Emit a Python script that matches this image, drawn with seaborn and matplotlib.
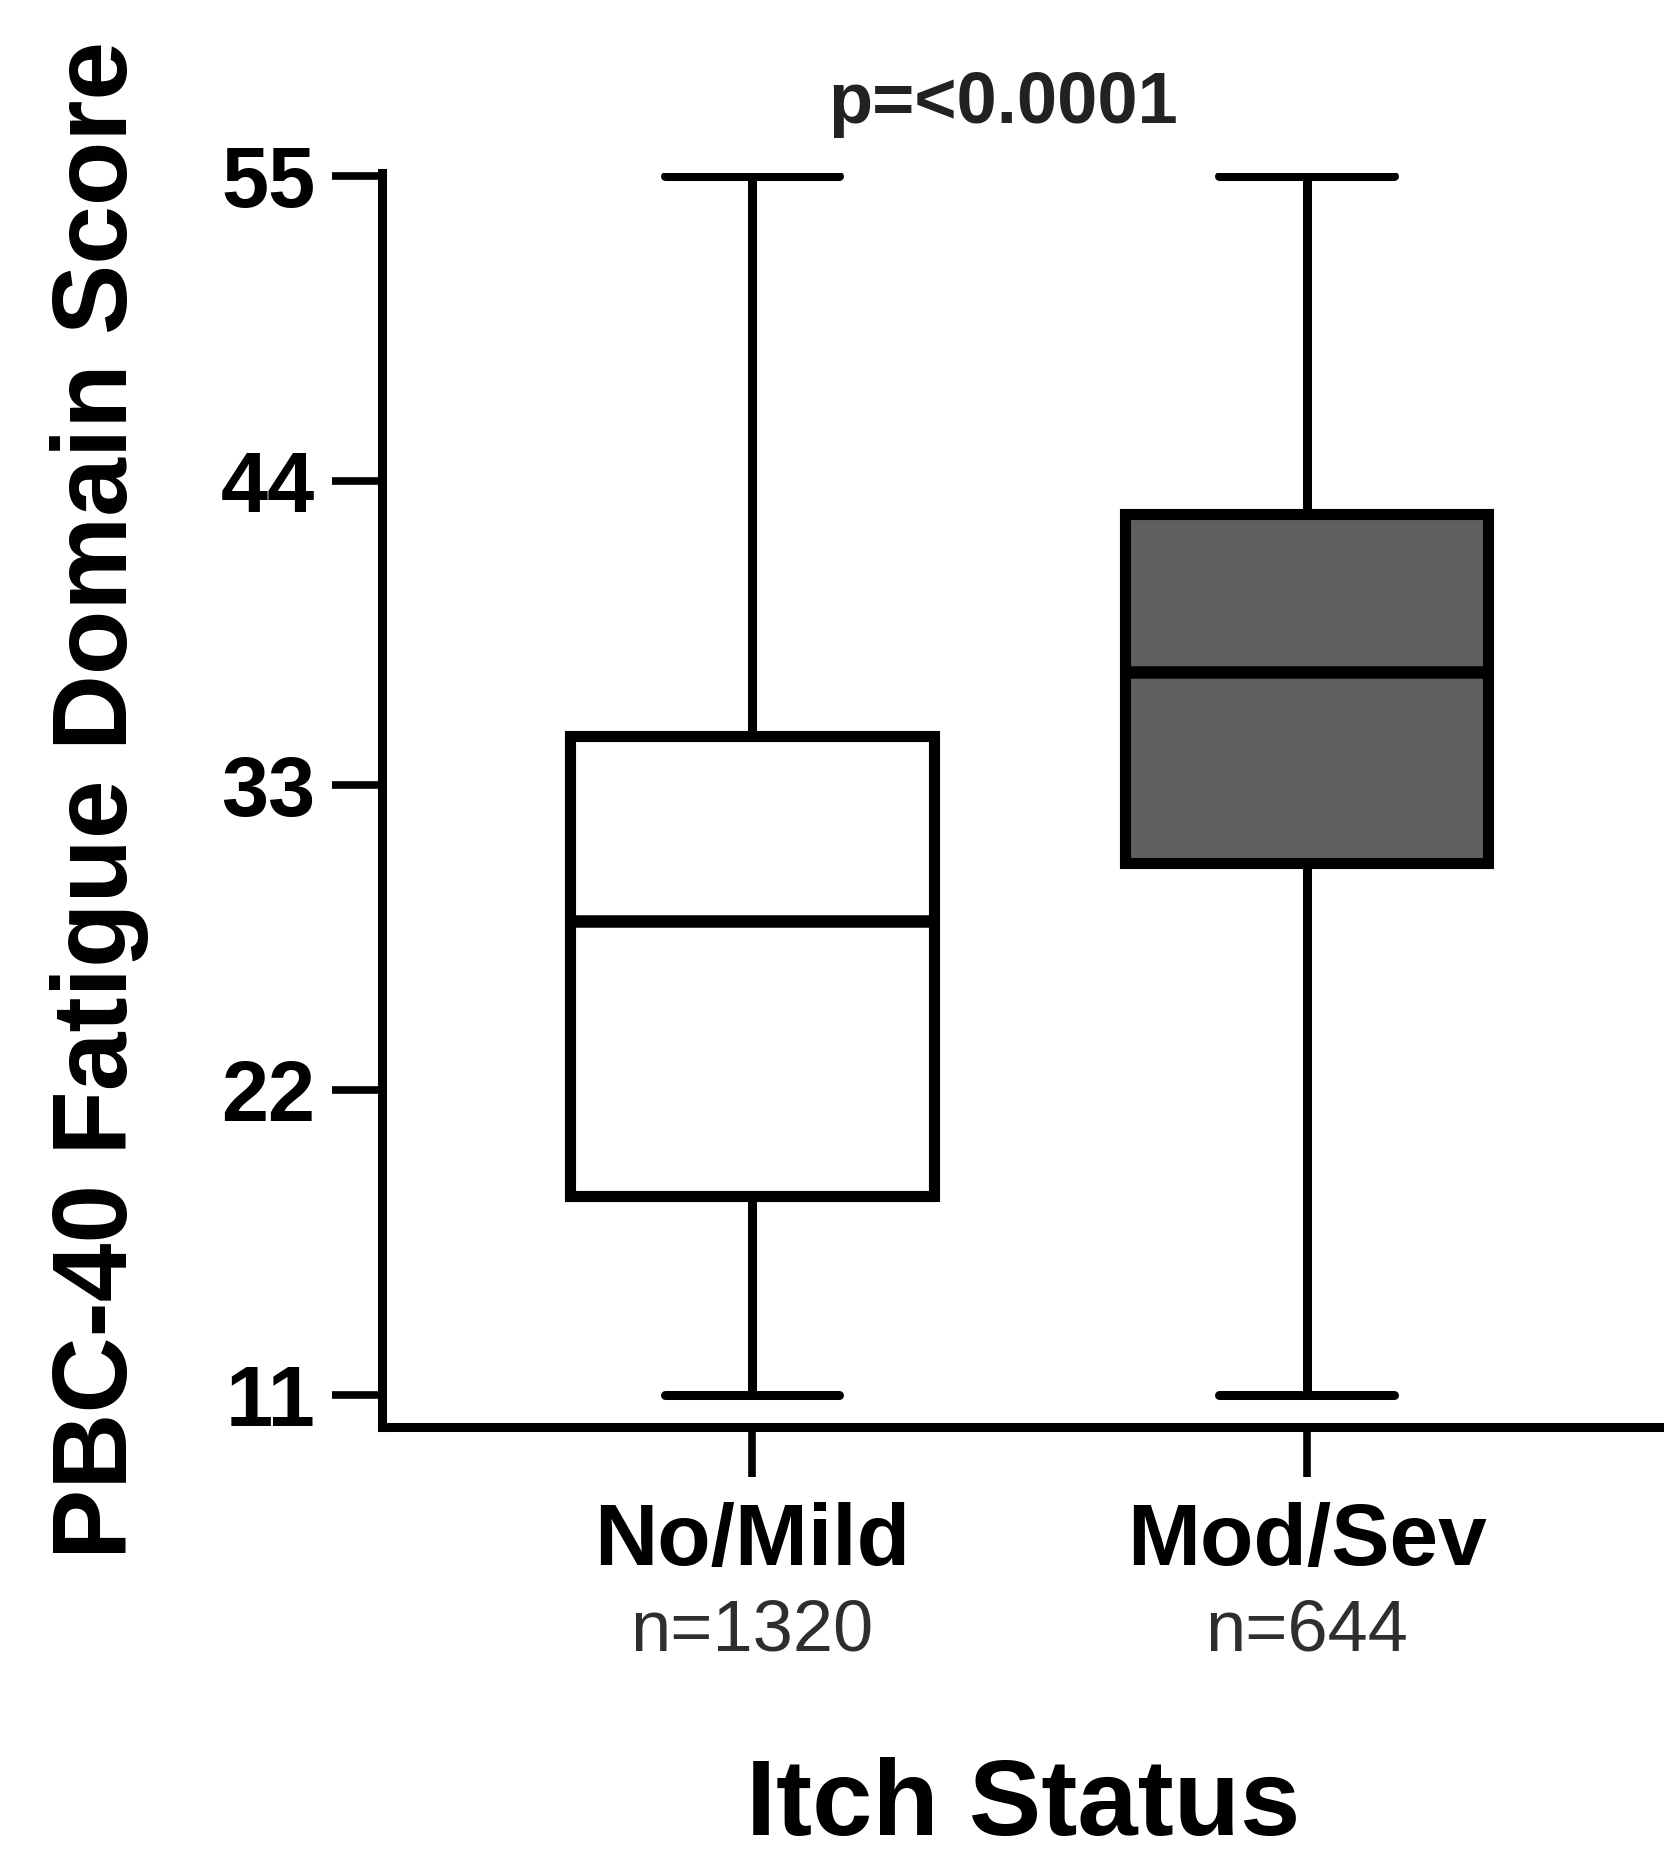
import matplotlib
matplotlib.use("Agg")
import matplotlib.pyplot as plt
import matplotlib.transforms as mtransforms
import seaborn as sns
import pandas as pd

# ---- data ----
groups = ["No/Mild", "Mod/Sev"]
n_labels = ["n=1320", "n=644"]
mins = [11, 11]
q1s = [18.2, 30.2]
medians = [28.1, 37.1]
q3s = [34.8, 42.8]
maxs = [55, 55]
yticks = [11, 22, 33, 44, 55]
p_text = "p=<0.0001"
fill_colors = ["#ffffff", "#5f5f5f"]

rows = []
for g, a, b, c, d, e in zip(groups, mins, q1s, medians, q3s, maxs):
    for v in (a, b, c, d, e):
        rows.append({"Itch Status": g, "Score": v})
df = pd.DataFrame(rows)

sns.set_style("ticks")
plt.rcParams["font.family"] = ["Liberation Sans", "DejaVu Sans"]
plt.rcParams["text.color"] = "black"
plt.rcParams["axes.labelcolor"] = "black"
plt.rcParams["xtick.color"] = "black"
plt.rcParams["ytick.color"] = "black"

W, H = 1665, 1854
fig = plt.figure(figsize=(W / 100, H / 100), dpi=100)
ax_left, ax_right, ax_top, ax_bot = 382, 1665, 173, 1427
ax = fig.add_axes([ax_left / W, 1 - ax_bot / H, (ax_right - ax_left) / W, (ax_bot - ax_top) / H])

lw_box = 8.0
lw_wh = 6.5
sns.boxplot(data=df, x="Itch Status", y="Score", hue="Itch Status",
            palette=fill_colors, order=groups, hue_order=groups, legend=False,
            width=0.655, whis=(0, 100), linecolor="black", linewidth=lw_box,
            showfliers=False, ax=ax,
            boxprops=dict(linewidth=lw_box, edgecolor="black"),
            medianprops=dict(linewidth=9, color="black"),
            whiskerprops=dict(linewidth=lw_wh, color="black"),
            capprops=dict(linewidth=lw_wh, color="black"),
            capwidths=0.315)

ax.set_xlim(-0.667, 1.646)
ax.set_ylim(9.85, 55.1)
ax.set_yticks(yticks)
ax.set_yticklabels([str(t) for t in yticks], fontsize=61, fontweight="bold", color="black")
ax.set_xticks(range(len(groups)))
ax.set_xticklabels(groups, fontsize=63, fontweight="bold", color="black")
ax.tick_params(axis="both", length=36, width=5.5, color="black")
ax.tick_params(axis="y", pad=12)
ax.tick_params(axis="x", pad=18)

for s in ("top", "right"):
    ax.spines[s].set_visible(False)
for s in ("left", "bottom"):
    ax.spines[s].set_linewidth(6.5)
    ax.spines[s].set_color("black")

ax.set_ylabel("PBC-40 Fatigue Domain Score", fontsize=76, fontweight="bold", color="black")
ax.yaxis.label.set_va("center")
ax.yaxis.set_label_coords((100 - ax_left) / (ax_right - ax_left), 0.5)
ax.set_xlabel("Itch Status", fontsize=78, fontweight="bold", color="black")
ax.xaxis.label.set_va("center")
ax.xaxis.set_label_coords(0.5, (ax_bot - 1807) / (ax_bot - ax_top))

trans = mtransforms.blended_transform_factory(ax.transData, ax.transAxes)
for i, lab in enumerate(n_labels):
    ax.text(i, (ax_bot - 1632) / (ax_bot - ax_top), lab, transform=trans,
            ha="center", va="center", fontsize=52, color="#2e2e2e", clip_on=False)

ax.text(0.452, 57.6, p_text, ha="center", va="center", fontsize=52,
        fontweight="bold", color="#222222", clip_on=False)

fig.savefig("out.png", dpi=100, facecolor="white")
